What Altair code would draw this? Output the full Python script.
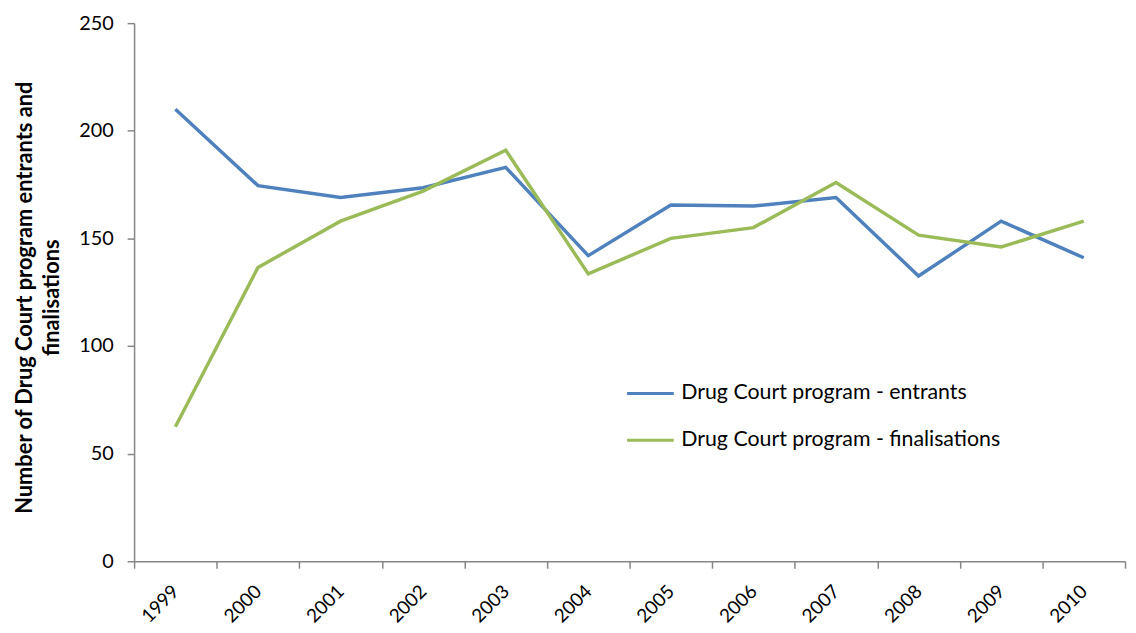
import altair as alt
import pandas as pd

years = list(range(1999, 2011))
entrants = [210, 174.5, 169, 173.5, 183, 142, 165.5, 165, 169, 132.5, 158, 141]
finalisations = [62.5, 136.5, 158, 172, 191, 133.5, 150, 155, 176, 151.5, 146, 158]
series_names = ["Drug Court program - entrants", "Drug Court program - finalisations"]
series_colors = ["#4F81BD", "#9BBB59"]
y_ticks = [0, 50, 100, 150, 200, 250]
y_title = ["Number of Drug Court program entrants and", "finalisations"]

rows = []
for i, yr in enumerate(years):
    rows.append({"year": yr, "series": series_names[0], "value": entrants[i]})
    rows.append({"year": yr, "series": series_names[1], "value": finalisations[i]})
df = pd.DataFrame(rows)

boundaries = [yr - 0.5 for yr in years] + [years[-1] + 0.5]
xscale = alt.Scale(domain=[boundaries[0], boundaries[-1]], nice=False, zero=False)

FONT = "Lato"
GRAY = "#868686"

lines = alt.Chart(df).mark_line(strokeWidth=3.5).encode(
    x=alt.X("year:Q", scale=xscale,
            axis=alt.Axis(orient="bottom", values=years, format="d", ticks=False, domain=True,
                          domainColor=GRAY, domainWidth=1.5, grid=False,
                          labelAngle=-45, labelAlign="right", labelBaseline="middle",
                          labelPadding=27, labelFont=FONT, labelFontSize=19,
                          labelColor="#000000", title=None)),
    y=alt.Y("value:Q", scale=alt.Scale(domain=[0, 250], nice=False),
            axis=alt.Axis(values=y_ticks, tickSize=7, tickColor=GRAY, tickWidth=1.5,
                          domainColor=GRAY, domainWidth=1.5, grid=False,
                          labelPadding=14, labelFont=FONT, labelFontSize=20,
                          labelColor="#000000",
                          title=y_title, titleFont=FONT, titleFontWeight="bold",
                          titleFontSize=22, titleColor="#000000", titleAngle=-90,
                          titleX=-110, titleY=276, titleAlign="center",
                          titleBaseline="middle", titleLineHeight=27)),
    color=alt.Color("series:N", scale=alt.Scale(domain=series_names, range=series_colors),
                    legend=alt.Legend(title=None, orient="none", legendX=495, legendY=348,
                                      symbolType="stroke", symbolSize=2209,
                                      symbolStrokeWidth=3, labelFont=FONT,
                                      labelFontSize=21.5, labelColor="#000000",
                                      labelOffset=6, rowPadding=11, labelLimit=500)),
)

tick_df = pd.DataFrame({"b": boundaries})
ticks_layer = alt.Chart(tick_df).mark_point(opacity=0).encode(
    x=alt.X("b:Q", scale=xscale,
            axis=alt.Axis(orient="bottom", values=boundaries, labels=False, ticks=True,
                          tickSize=7, tickColor=GRAY, tickWidth=1.5, domain=False,
                          grid=False, title=None)),
)

chart = alt.layer(lines, ticks_layer).resolve_axis(x="independent").properties(
    width=998, height=542,
    padding={"left": 127, "top": 13, "right": 3, "bottom": 70},
    autosize=alt.AutoSizeParams(type="none"),
).configure_view(stroke=None)

chart.save("out.html", embed_options={"renderer": "svg", "actions": False})
